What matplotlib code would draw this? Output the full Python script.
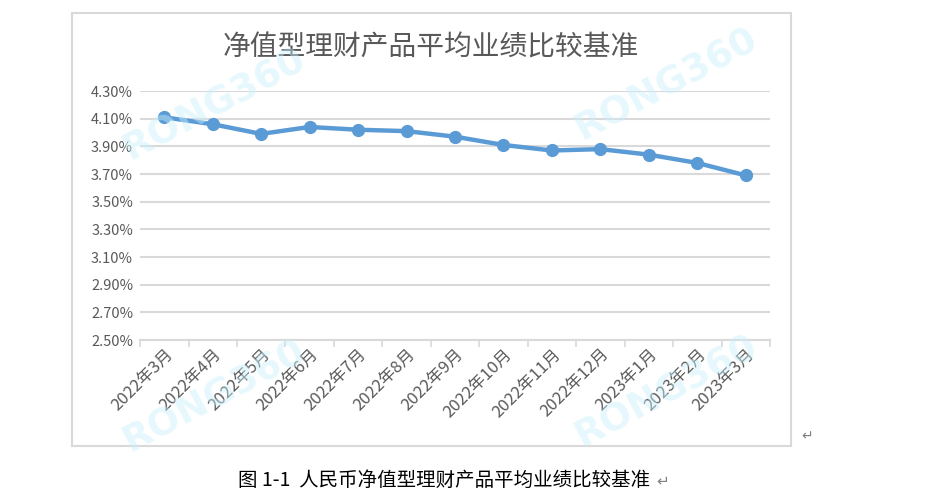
import matplotlib.pyplot as plt
import numpy as np
from matplotlib.patches import Rectangle

plt.rcParams['font.family'] = ['Noto Sans CJK SC', 'DejaVu Sans']

months = ['2022年3月', '2022年4月', '2022年5月', '2022年6月', '2022年7月', '2022年8月',
          '2022年9月', '2022年10月', '2022年11月', '2022年12月', '2023年1月',
          '2023年2月', '2023年3月']
rates = [4.11, 4.06, 3.99, 4.04, 4.02, 4.01, 3.97, 3.91, 3.87, 3.88, 3.84, 3.78, 3.69]
yticks = [2.50, 2.70, 2.90, 3.10, 3.30, 3.50, 3.70, 3.90, 4.10, 4.30]

title = '净值型理财产品平均业绩比较基准'
caption = '图 1-1  人民币净值型理财产品平均业绩比较基准'

fig = plt.figure(figsize=(9.25, 4.96), dpi=100)
ax = fig.add_axes([0.1514, 0.3145, 0.681, 0.502])

x = np.arange(len(months))
ax.plot(x, rates, color='#5B9BD5', lw=3.2, marker='o', ms=8.5, zorder=3)

ax.set_xlim(-0.5, len(months) - 0.5)
ax.set_ylim(2.5, 4.3)
ax.set_yticks(yticks)
ax.set_yticklabels([f'{v:.2f}%' for v in yticks], color='#595959', fontsize=10.5)
ax.grid(axis='y', color='#D9D9D9', lw=1.5)
ax.set_axisbelow(True)

ax.set_xticks(x)
ax.set_xticklabels(months, rotation=45, ha='right', rotation_mode='anchor',
                   color='#595959', fontsize=12)
ax.set_xticks(np.arange(-0.5, len(months)), minor=True)
ax.tick_params(axis='x', which='major', length=0, pad=4)
ax.tick_params(axis='x', which='minor', length=5, color='#D9D9D9', width=1.2)
ax.tick_params(axis='y', length=0, pad=5)

for s in ['top', 'right', 'left']:
    ax.spines[s].set_visible(False)
ax.spines['bottom'].set_color('#D9D9D9')
ax.spines['bottom'].set_linewidth(1.5)

# chart frame
fig.patches.append(Rectangle((0.0778, 0.1008), 0.7773, 0.873, transform=fig.transFigure,
                             fill=False, ec='#D9D9D9', lw=1.5, zorder=0))

fig.text(0.466, 0.905, title, ha='center', va='center', fontsize=20, color='#595959')

# watermarks
for wx, wy in [(0.232, 0.79), (0.72, 0.83), (0.232, 0.2), (0.72, 0.21)]:
    fig.text(wx, wy, 'RONG360', rotation=28, ha='center', va='center', fontsize=27,
             fontweight='bold', color='#C9F1FC', alpha=0.45, family='DejaVu Sans', zorder=5)

fig.text(0.48, 0.032, caption, ha='center', va='center', fontsize=14,
         fontweight='medium', color='black')
fig.text(0.709, 0.03, '↵', ha='left', va='center', fontsize=11, color='#808080')
fig.text(0.866, 0.12, '↵', ha='left', va='center', fontsize=10, color='#808080')

fig.savefig('out.png', dpi=100)
